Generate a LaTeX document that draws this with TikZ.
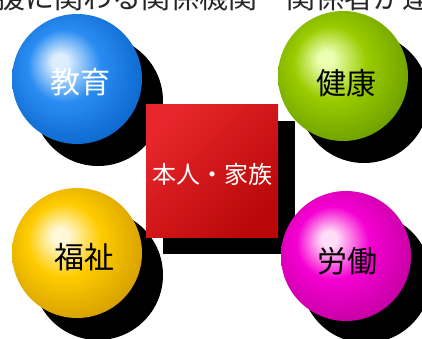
\documentclass[tikz,border=0pt]{standalone}
\usepackage{fontspec}
\newfontfamily\jp{Noto Sans CJK JP}
\definecolor{bhl}{HTML}{DDEFFF}
\definecolor{bmid}{HTML}{2A8CF2}
\definecolor{bdark}{HTML}{0560C4}
\definecolor{ghl}{HTML}{EAFFB0}
\definecolor{gmid}{HTML}{9ACC00}
\definecolor{gdark}{HTML}{649600}
\definecolor{yhl}{HTML}{FFF8D8}
\definecolor{ymid}{HTML}{FFCC00}
\definecolor{ydark}{HTML}{CC9600}
\definecolor{mhl}{HTML}{FFDDF6}
\definecolor{mmid}{HTML}{F500D2}
\definecolor{mdark}{HTML}{BC0098}
\definecolor{sqlight}{HTML}{E6262A}
\definecolor{sqdark}{HTML}{BA0808}
\pgfdeclareradialshading{sphblue}{\pgfpoint{-7bp}{7bp}}{color(0bp)=(bhl); color(3bp)=(bhl); color(14bp)=(bmid); color(33bp)=(bdark); color(50bp)=(bdark)}
\pgfdeclareradialshading{sphgreen}{\pgfpoint{-7bp}{7bp}}{color(0bp)=(ghl); color(3bp)=(ghl); color(14bp)=(gmid); color(33bp)=(gdark); color(50bp)=(gdark)}
\pgfdeclareradialshading{sphyellow}{\pgfpoint{-7bp}{7bp}}{color(0bp)=(yhl); color(3bp)=(yhl); color(14bp)=(ymid); color(33bp)=(ydark); color(50bp)=(ydark)}
\pgfdeclareradialshading{sphmag}{\pgfpoint{-7bp}{7bp}}{color(0bp)=(mhl); color(3bp)=(mhl); color(14bp)=(mmid); color(33bp)=(mdark); color(50bp)=(mdark)}
\begin{document}
\begin{tikzpicture}[x=1pt,y=1pt,
  ball/.style={circle,minimum size=130pt,inner sep=0pt,outer sep=0pt},
  ballshadow/.style={ball,fill=black},
  balllabel/.style={inner sep=0pt,font=\jp\fontsize{30}{34}\selectfont},
  sqbox/.style={rectangle,minimum width=132pt,minimum height=133pt,inner sep=0pt,outer sep=0pt},
  sqshadow/.style={sqbox,fill=black},
  toptext/.style={inner sep=0pt,anchor=base west,font=\jp\fontsize{29}{32}\selectfont,text=black!85}]
\useasboundingbox (0,0) rectangle (422,-338);
% shadows
\node (eduS) [ballshadow] at (98,-101) {};
\node (kenS) [ballshadow] at (364,-98) {};
\node (fukS) [ballshadow] at (98,-275) {};
\node (rouS) [ballshadow] at (366,-278) {};
\node (sqS) [sqshadow] at (229,-187.5) {};
% balls
\node (edu) [ball,shading=sphblue] at (77,-79) {};
\node (ken) [ball,shading=sphgreen] at (343,-76) {};
\node (fuk) [ball,shading=sphyellow] at (77,-253) {};
\node (rou) [ball,shading=sphmag] at (346,-256) {};
% centre square
\node (sq) [sqbox,top color=sqlight,bottom color=sqdark,shading angle=45] at (212,-170.5) {};
\node (sqT) [inner sep=0pt,text=white,font=\jp\fontsize{24}{28}\selectfont] at (212,-174) {本人・家族};
% labels
\node (eduT) [balllabel,text=white] at (80,-82) {教育};
\node (kenT) [balllabel,text=black] at (346,-83) {健康};
\node (fukT) [balllabel,text=black] at (84,-257) {福祉};
\node (rouT) [balllabel,text=black] at (347,-261) {労働};
% top text (cropped)
\node (top) [toptext] at (-4,-8) {援に関わる関係機関　関係者が連};
\end{tikzpicture}
\end{document}
